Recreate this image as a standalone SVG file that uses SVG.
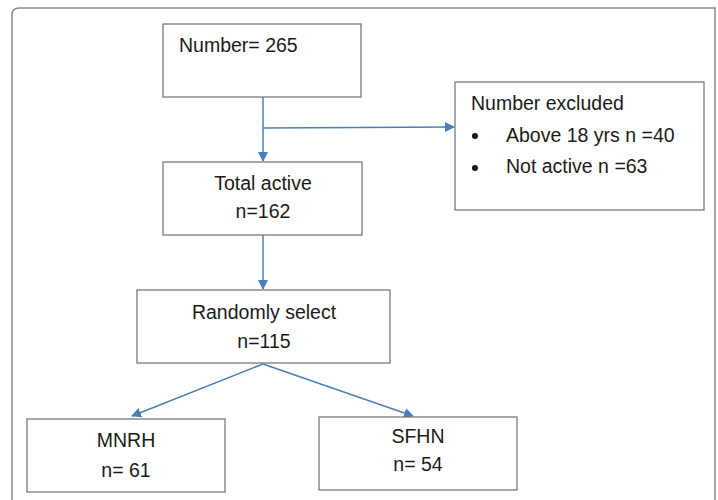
<svg xmlns="http://www.w3.org/2000/svg" width="718" height="500" viewBox="0 0 718 500">
<defs>
<marker id="ah" markerWidth="10" markerHeight="10" refX="9" refY="5" orient="auto" markerUnits="userSpaceOnUse">
<path d="M0,0 L10,5 L0,10 Z" fill="#4a7ebb"/>
</marker>
</defs>
<style>
.box{fill:#fff;stroke:#6e6e6e;stroke-width:1.2}
.t{font-family:"Liberation Sans",Arial,sans-serif;font-size:19.5px;fill:#1a1a1a}
.c{text-anchor:middle}
.ln{stroke:#4a7ebb;stroke-width:1.5;fill:none}
</style>
<rect x="0" y="0" width="718" height="500" fill="#fff"/>
<path d="M12,500 L12,15 Q12,8 19,8 L715,8 L715,500" fill="none" stroke="#8a8a8a" stroke-width="1.5"/>
<g id="connectors">
<line class="ln" x1="263" y1="97" x2="263" y2="161" marker-end="url(#ah)"/>
<path class="ln" d="M263,128 L454,127" marker-end="url(#ah)"/>
<line class="ln" x1="263" y1="235" x2="263" y2="289" marker-end="url(#ah)"/>
<line class="ln" x1="263" y1="364" x2="132" y2="416" marker-end="url(#ah)"/>
<line class="ln" x1="263" y1="364" x2="413" y2="416" marker-end="url(#ah)"/>
</g>
<g id="n1">
<rect class="box" x="163" y="24" width="198" height="73"/>
<text class="t" x="179" y="52">Number= 265</text>
</g>
<g id="n2">
<rect class="box" x="455" y="82" width="249" height="128"/>
<text class="t" x="471" y="110">Number excluded</text>
<circle cx="475" cy="136" r="3" fill="#1a1a1a"/>
<text class="t" x="506" y="142">Above 18 yrs n =40</text>
<circle cx="475" cy="168" r="3" fill="#1a1a1a"/>
<text class="t" x="506" y="173">Not active n =63</text>
</g>
<g id="n3">
<rect class="box" x="163" y="162" width="199" height="73"/>
<text class="t c" x="263" y="190">Total active</text>
<text class="t c" x="263" y="218">n=162</text>
</g>
<g id="n4">
<rect class="box" x="137" y="290" width="253" height="73"/>
<text class="t c" x="264" y="319">Randomly select</text>
<text class="t c" x="264" y="348">n=115</text>
</g>
<g id="n5">
<rect class="box" x="27" y="419" width="198" height="73"/>
<text class="t c" x="126" y="447">MNRH</text>
<text class="t c" x="126" y="477">n= 61</text>
</g>
<g id="n6">
<rect class="box" x="319" y="417" width="198" height="73"/>
<text class="t c" x="418" y="443">SFHN</text>
<text class="t c" x="418" y="471">n= 54</text>
</g>
</svg>
